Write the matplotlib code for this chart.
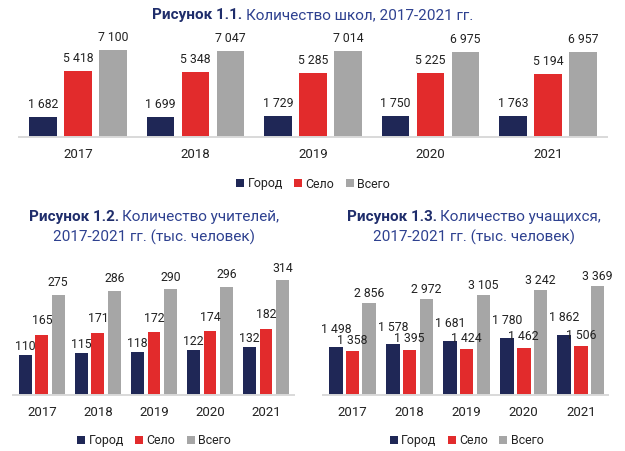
import matplotlib
matplotlib.use("Agg")
import matplotlib.pyplot as plt
import numpy as np

plt.rcParams["font.family"] = ["Roboto", "DejaVu Sans"]

# ---- data ----
years = ["2017", "2018", "2019", "2020", "2021"]
series = ["Город", "Село", "Всего"]

schools_city = [1682, 1699, 1729, 1750, 1763]
schools_village = [5418, 5348, 5285, 5225, 5194]
schools_total = [7100, 7047, 7014, 6975, 6957]

teachers_city = [110, 115, 118, 122, 132]
teachers_village = [165, 171, 172, 174, 182]
teachers_total = [275, 286, 290, 296, 314]

pupils_city = [1498, 1578, 1681, 1780, 1862]
pupils_village = [1358, 1395, 1424, 1462, 1506]
pupils_total = [2856, 2972, 3105, 3242, 3369]

colors = ["#1f2756", "#e22b2c", "#a6a6a6"]
TXT = "#222222"
NAVY_B = "#1f2d6b"
NAVY = "#2e4190"

W, H = 625, 451
fig = plt.figure(figsize=(W / 100, H / 100), dpi=100)


def px_axes(x0, x1, ybase, ytop):
    """axes from pixel coords (top-left origin)"""
    return fig.add_axes([x0 / W, 1 - ybase / H, (x1 - x0) / W, (ybase - ytop) / H])


def HideSpines(ax):
    for s in ["top", "right", "left"]:
        ax.spines[s].set_visible(False)
    ax.spines["bottom"].set_color("#d9d9d9")
    ax.spines["bottom"].set_linewidth(1.4)
    ax.set_yticks([])


def fmt(v):
    return f"{v:,}".replace(",", " ")


def draw_chart(ax, data, width, step, ymax, xlim, offsets):
    x = np.arange(len(years))
    handles = []
    for i, vals in enumerate(data):
        pos = x + (i - 1) * step
        b = ax.bar(pos, vals, width, color=colors[i], zorder=2)
        handles.append(b)
        for p, v in zip(pos, vals):
            ax.annotate(fmt(v), (p, v), xytext=(0, offsets[i] * 0.72),
                        textcoords="offset points", ha="center", va="center",
                        fontsize=8.8, color=TXT)
    ax.set_ylim(0, ymax)
    ax.set_xlim(*xlim)
    ax.set_xticks(x, years)
    ax.tick_params(axis="x", length=0, pad=8, labelsize=9.5, labelcolor=TXT)
    HideSpines(ax)
    return handles


def legend(ax, handles, xc, yc):
    ax.legend(handles, series, loc="center", bbox_to_anchor=(xc / W, 1 - yc / H),
              bbox_transform=fig.transFigure, ncol=3, frameon=False,
              handlelength=0.65, handleheight=0.65, handletextpad=0.3,
              columnspacing=0.9, fontsize=8.9, labelcolor=TXT)


def title_line(xc, yc, bold, rest, size=11):
    r = fig.canvas.get_renderer()
    y = 1 - yc / H
    t1 = fig.text(0, y, bold, fontsize=size, fontweight="bold", color=NAVY_B, va="center")
    t2 = fig.text(0, y, rest, fontsize=size, color=NAVY, va="center")
    w1 = t1.get_window_extent(r).width
    w2 = t2.get_window_extent(r).width
    gap = 3.5 if bold and rest else 0
    x0 = xc - (w1 + gap + w2) / 2
    t1.set_x(x0 / W)
    t2.set_x((x0 + w1 + gap) / W)


# ---- Рисунок 1.1 ----
ax1 = px_axes(19.3, 606.7, 137.3, 40)
h1 = draw_chart(ax1, [schools_city, schools_village, schools_total],
                0.234, 0.298, 97.3 / 0.01224, (-0.5, 4.5), [12.5, 12.5, 12.5])
legend(ax1, h1, 313, 184)
title_line(313, 15, "Рисунок 1.1.", "Количество школ, 2017-2021 гг.")

# ---- Рисунок 1.2 ----
ax2 = px_axes(13.3, 294, 395, 260)
h2 = draw_chart(ax2, [teachers_city, teachers_village, teachers_total],
                0.229, 0.293, 135 / 0.365, (-0.51, 4.5), [8.5, 14, 12])
legend(ax2, h2, 154, 440.7)
title_line(154, 217, "Рисунок 1.2.", "Количество учителей,")
title_line(154, 237, "", "2017-2021 гг. (тыс. человек)")

# ---- Рисунок 1.3 ----
ax3 = px_axes(323, 608.3, 395, 260)
h3 = draw_chart(ax3, [pupils_city, pupils_village, pupils_total],
                0.237, 0.293, 135 / 0.0323, (-0.517, 4.48), [17, 11, 9.7])
legend(ax3, h3, 466.7, 440.7)
title_line(474, 217, "Рисунок 1.3.", "Количество учащихся,")
title_line(474, 237, "", "2017-2021 гг. (тыс. человек)")

fig.savefig("out.png", dpi=100)
